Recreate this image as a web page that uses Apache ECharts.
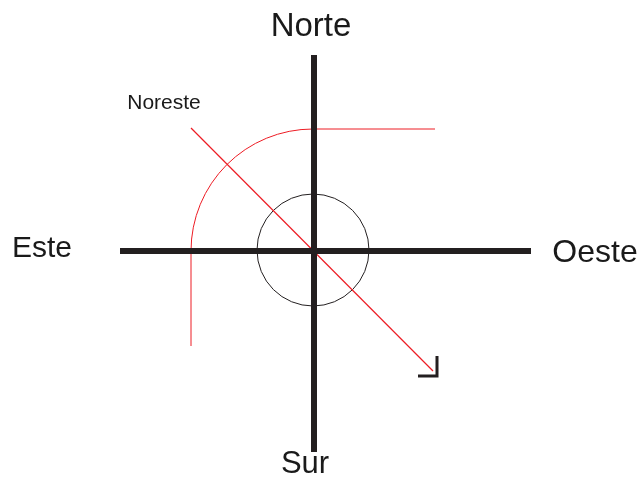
<!DOCTYPE html>
<html>
<head>
<meta charset="utf-8">
<script src="https://cdn.jsdelivr.net/npm/echarts@6/dist/echarts.min.js"></script>
<style>
  html, body { margin: 0; padding: 0; background: #fff; }
  #myChart { width: 642px; height: 478px; }
</style>
</head>
<body>
<div id="myChart"></div>
<script>
// coordinates are in drawing units (0..642 across, 0..478 down)
var axisVertical = [[314, 55], [314, 452]];
var axisHorizontal = [[120, 251], [531, 251]];
var diagonal = [[191, 128], [433, 371]];
var cornerMark = [[437, 356], [437, 376], [418, 376]];
var redLeg = [[191, 251], [191, 346]];
var redTop = [[313, 129], [435, 129]];
var innerCircle = [[313, 250, 56]];
var redArc = [[313, 251, 122]];
var labelNames = ['Norte', 'Sur', 'Este', 'Oeste', 'Noreste'];
var labelPos = [[311, 27], [305, 464], [42, 249], [595, 253], [164, 103]];
var labelSizes = [33, 31, 30, 32, 21];

var ink = '#231f20';
var red = '#ed1c24';

function seg(name, pts, color, width) {
  return {
    name: name,
    type: 'line',
    data: pts,
    symbol: 'none',
    silent: true,
    lineStyle: { color: color, width: width, cap: 'butt', join: 'miter' }
  };
}

function ring(name, data, color, start, end) {
  return {
    name: name,
    type: 'custom',
    silent: true,
    data: data,
    renderItem: function (params, api) {
      var c = api.coord([api.value(0), api.value(1)]);
      var r = api.size([api.value(2), 0])[0];
      return {
        type: 'arc',
        shape: { cx: c[0], cy: c[1], r: r, startAngle: start, endAngle: end, clockwise: true },
        style: { stroke: color, lineWidth: 1, fill: null }
      };
    }
  };
}

var myChart = echarts.init(document.getElementById('myChart'));
var option = {
  animation: false,
  grid: { left: 0, right: 0, top: 0, bottom: 0 },
  xAxis: { type: 'value', min: 0, max: 642, show: false },
  yAxis: { type: 'value', min: 0, max: 478, inverse: true, show: false },
  series: [
    ring('circulo', innerCircle, ink, 0, Math.PI * 2),
    ring('arco', redArc, red, Math.PI, Math.PI * 1.5),
    seg('pierna', redLeg, red, 1),
    seg('tope', redTop, red, 1),
    seg('diagonal', diagonal, red, 1.2),
    seg('vertical', axisVertical, ink, 6),
    seg('horizontal', axisHorizontal, ink, 6),
    seg('marca', cornerMark, ink, 3),
    {
      name: 'etiquetas',
      type: 'scatter',
      symbolSize: 0,
      silent: true,
      itemStyle: { opacity: 1 },
      data: labelNames.map(function (n, i) {
        return {
          name: n,
          value: labelPos[i],
          label: {
            show: true,
            position: 'inside',
            formatter: '{b}',
            color: '#1a1a1a',
            textBorderWidth: 0,
            fontFamily: 'Liberation Sans, Arial, sans-serif',
            fontSize: labelSizes[i]
          }
        };
      })
    }
  ]
};
myChart.setOption(option);
</script>
</body>
</html>
